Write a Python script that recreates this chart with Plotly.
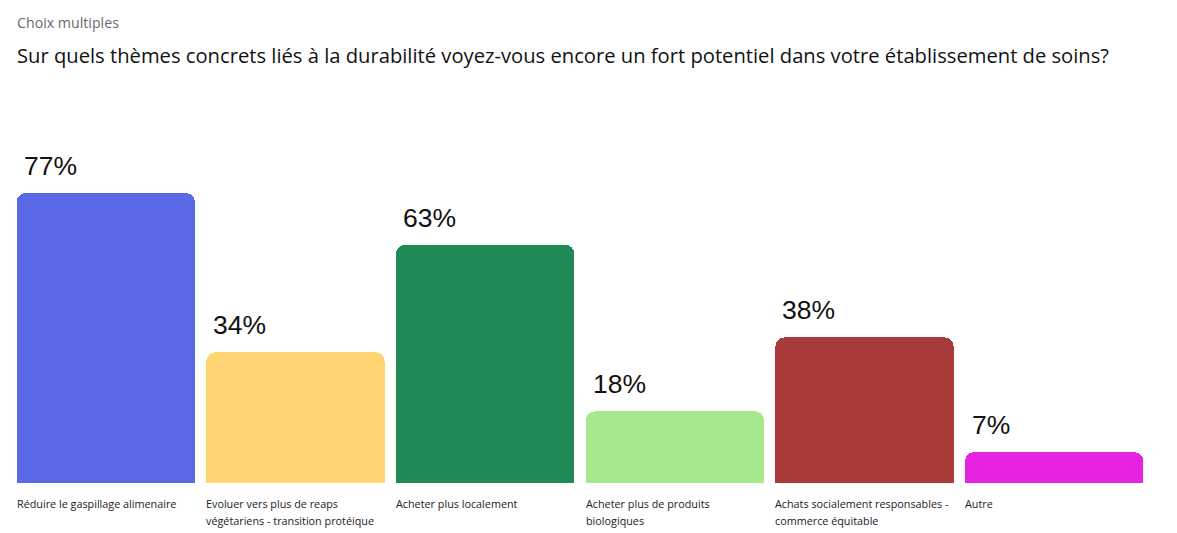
import plotly.graph_objects as go

categories = [
    "Réduire le gaspillage alimenaire",
    "Evoluer vers plus de reaps<br>végétariens - transition protéique",
    "Acheter plus localement",
    "Acheter plus de produits<br>biologiques",
    "Achats socialement responsables -<br>commerce équitable",
    "Autre",
]
values = [77, 34, 63, 18, 38, 7]
colors = ["#5A6AE6", "#FFD472", "#1F8A55", "#A8E88C", "#A83A3A", "#E523E0"]

foot = 1.35  # small visual foot under the zero line (style)
xs = list(range(len(values)))

fig = go.Figure()
fig.add_trace(go.Bar(
    x=xs, y=[foot] * len(values),
    marker=dict(color=colors, line=dict(width=0)), hoverinfo="skip",
))
fig.add_trace(go.Bar(
    x=xs, y=values,
    marker=dict(color=colors, line=dict(width=0)), hoverinfo="skip",
))

# page body has an 8px margin; compensate
OFF = 8
W, H = 1177 - OFF, 533 - OFF
ml, mr, mt, mb = 3, 28, 92, 50
pw, ph = W - ml - mr, H - mt - mb


def px_x(x):
    return (x - OFF - ml) / pw


def px_y(y):
    return 1 - (y - OFF - mt) / ph


annotations = []
for i, (c, v) in enumerate(zip(categories, values)):
    annotations.append(dict(
        x=i - 0.47, y=v + foot, xref="x", yref="y", text=f"{v}%",
        showarrow=False, xanchor="left", yanchor="bottom",
        xshift=5, yshift=10,
        font=dict(family="Liberation Sans, Arial", size=26.5, color="#111111"),
    ))
    for j, line in enumerate(c.split("<br>")):
        annotations.append(dict(
            x=i - 0.47, y=px_y(503 + 17 * j), xref="x", yref="paper", text=line,
            showarrow=False, xanchor="left", yanchor="middle", align="left",
            xshift=-2,
            font=dict(family="Open Sans, Noto Sans", size=10.8, color="#222222"),
        ))

annotations.append(dict(
    x=px_x(15), y=px_y(22), xref="paper", yref="paper", text="Choix multiples",
    showarrow=False, xanchor="left", yanchor="middle",
    font=dict(family="Open Sans, Noto Sans", size=14.2, color="#6b6b6b"),
))
annotations.append(dict(
    x=px_x(15), y=px_y(55), xref="paper", yref="paper",
    text="Sur quels thèmes concrets liés à la durabilité voyez-vous encore un fort potentiel dans votre établissement de soins?",
    showarrow=False, xanchor="left", yanchor="middle",
    font=dict(family="Open Sans, Noto Sans", size=20.2, color="#111111"),
))

fig.update_layout(
    width=W, height=H,
    margin=dict(l=ml, r=mr, t=mt, b=mb),
    paper_bgcolor="white", plot_bgcolor="white",
    showlegend=False,
    barmode="stack",
    bargap=0.06,
    barcornerradius=9,
    xaxis=dict(range=[-0.5, 5.5], visible=False, fixedrange=True),
    yaxis=dict(range=[0, 103.5], visible=False, fixedrange=True),
    annotations=annotations,
)

fig.write_html("out.html")
